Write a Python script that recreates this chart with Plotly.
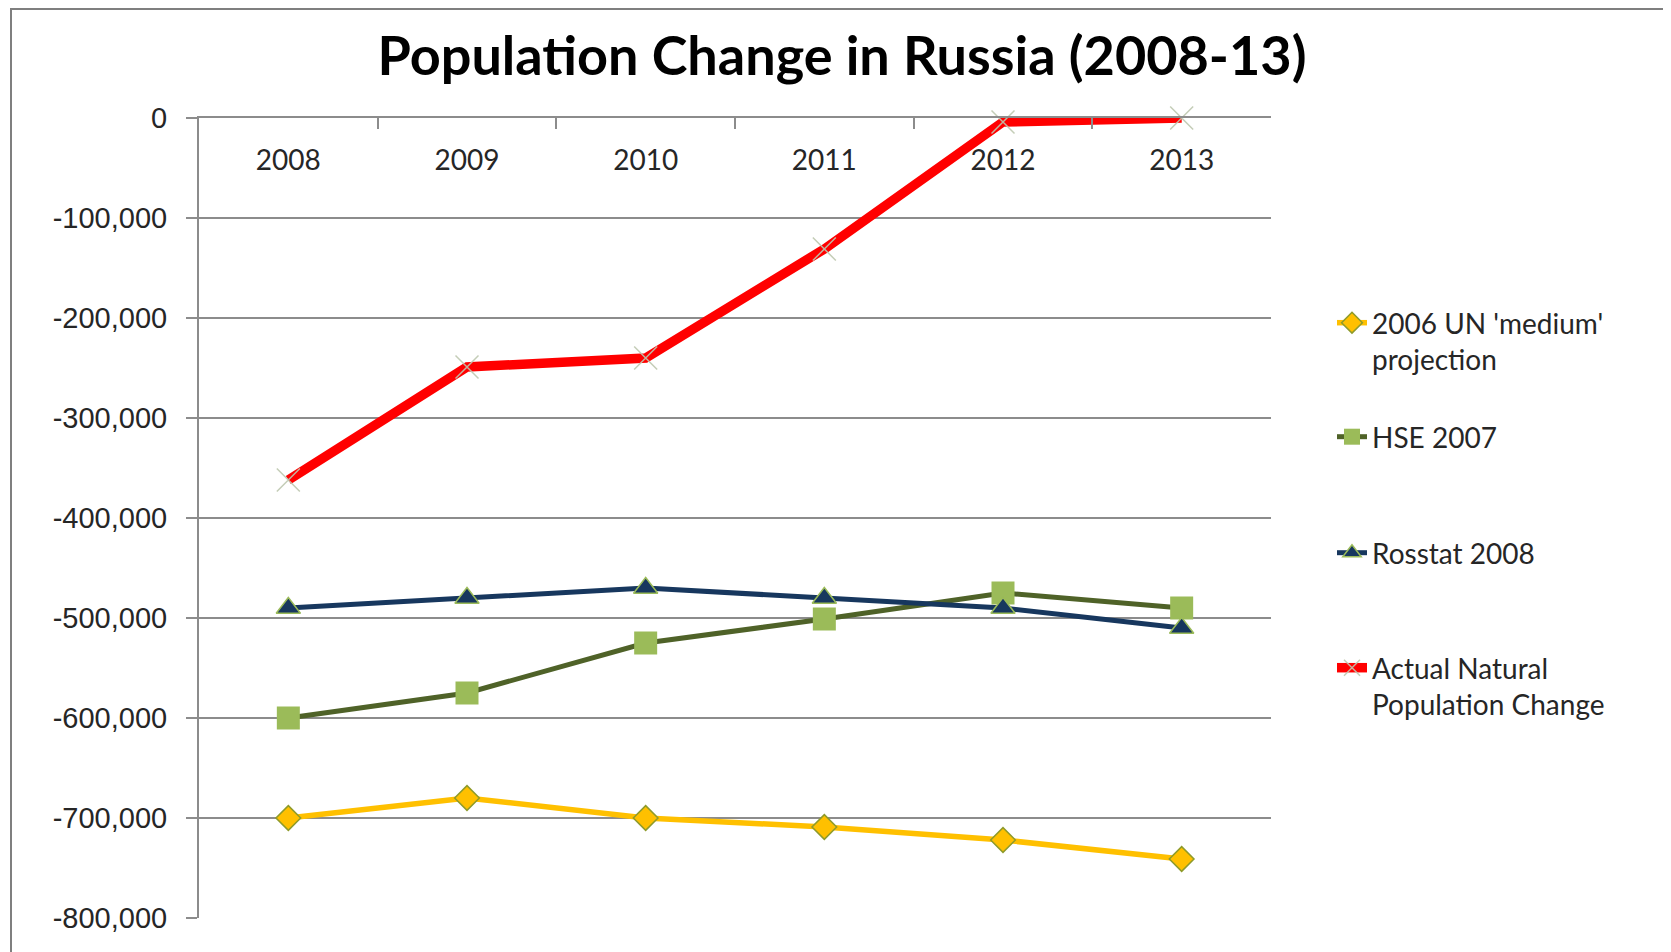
import plotly.graph_objects as go

# ---- data ----
years = [2008, 2009, 2010, 2011, 2012, 2013]
un_medium = [-700000, -680000, -700000, -709000, -722000, -741000]
hse_2007 = [-600000, -575000, -525000, -501000, -475000, -490000]
rosstat_2008 = [-490000, -480000, -470000, -480000, -490000, -510000]
actual_change = [-362000, -249000, -240000, -131000, -4000, 0]

series_names = ["2006 UN 'medium'<br>projection", "HSE 2007", "Rosstat 2008",
                "Actual Natural<br>Population Change"]
y_tick_vals = [0, -100000, -200000, -300000, -400000, -500000, -600000, -700000, -800000]
y_tick_text = ["0", "-100,000", "-200,000", "-300,000", "-400,000", "-500,000",
               "-600,000", "-700,000", "-800,000"]
title_text = "Population Change in Russia (2008-13)"

# ---- geometry (figure pixels; page has an 8px body margin) ----
OFF = 8
W, H = 1671 - OFF, 952 - OFF
L, R, T, B = 199 - OFF, 1271 - OFF, 118 - OFF, 918 - OFF


def px_x(p):
    return (p - L) / (R - L)


def px_y(p):
    return (B - p) / (B - T)


GRID = "#8c8c8c"
TEXT = "#262626"
FONT_TXT = "Lato"

fig = go.Figure()

fig.add_trace(go.Scatter(
    x=years, y=un_medium, name=series_names[0], mode="lines+markers",
    line=dict(color="#FFC000", width=5.5),
    marker=dict(symbol="diamond", size=19, color="#FFC000",
                line=dict(color="#8E9A2A", width=1.5)),
    legend="legend"))

fig.add_trace(go.Scatter(
    x=years, y=hse_2007, name=series_names[1], mode="lines+markers",
    line=dict(color="#4F6228", width=5),
    marker=dict(symbol="square", size=23, color="#9BBB59",
                line=dict(color="#9BBB59", width=0)),
    legend="legend2"))

fig.add_trace(go.Scatter(
    x=years, y=rosstat_2008, name=series_names[2], mode="lines+markers",
    line=dict(color="#17375E", width=5),
    marker=dict(symbol="triangle-up", size=21, color="#17375E",
                line=dict(color="#9BBB59", width=1.5)),
    legend="legend3"))

fig.add_trace(go.Scatter(
    x=years, y=actual_change, name=series_names[3], mode="lines+markers",
    line=dict(color="#FF0000", width=9.5),
    marker=dict(symbol="x-thin", size=23, color="rgba(190,200,175,0.9)",
                line=dict(color="rgba(190,200,175,0.9)", width=1.5)),
    legend="legend4", cliponaxis=False))

legend_common = dict(
    font=dict(family=FONT_TXT, size=28, color=TEXT),
    bgcolor="rgba(0,0,0,0)", borderwidth=0, xanchor="left", yanchor="middle",
    valign="top", itemclick=False, itemdoubleclick=False,
)
lx = px_x(1324)

fig.update_layout(
    width=W, height=H, autosize=False,
    margin=dict(l=L, r=W - R, t=T, b=H - B, pad=0),
    paper_bgcolor="white", plot_bgcolor="white",
    showlegend=True,
    title=dict(text=title_text, x=(842 - OFF) / W, xref="container", xanchor="center",
               y=1 - (56 - OFF) / H, yref="container", yanchor="middle",
               font=dict(family=FONT_TXT, size=54, color="black", weight="bold")),
    legend=dict(x=lx, y=px_y(333), **legend_common),
    legend2=dict(x=lx, y=px_y(429), **legend_common),
    legend3=dict(x=lx, y=px_y(545), **legend_common),
    legend4=dict(x=lx, y=px_y(678), **legend_common),
    xaxis=dict(
        range=[2007.5, 2013.5], side="top", showgrid=False, zeroline=False,
        showline=True, linecolor=GRID, linewidth=2,
        tickmode="array", tickvals=years, ticktext=[str(y) for y in years],
        ticks="inside", ticklen=1, tickcolor="rgba(0,0,0,0)",
        ticklabelposition="outside", ticklabelstandoff=-65,
        tickfont=dict(family=FONT_TXT, size=28, color=TEXT),
        minor=dict(tickmode="array", tickvals=[y - 0.5 for y in years] + [years[-1] + 0.5],
                   ticks="inside", ticklen=11, tickcolor=GRID, tickwidth=2, showgrid=False),
        fixedrange=True,
    ),
    yaxis=dict(
        range=[-800000, 0], showgrid=True, gridcolor=GRID, gridwidth=2,
        zeroline=False, showline=True, linecolor=GRID, linewidth=2,
        tickmode="array", tickvals=y_tick_vals, ticktext=y_tick_text,
        ticks="outside", ticklen=11, tickcolor=GRID, tickwidth=2,
        ticklabelstandoff=13,
        tickfont=dict(family="Liberation Sans", size=29, color=TEXT),
        fixedrange=True,
    ),
    shapes=[dict(type="rect", xref="paper", yref="paper",
                 x0=px_x(3), x1=px_x(1700), y0=px_y(990), y1=px_y(1),
                 line=dict(color="#7f7f7f", width=2), fillcolor="rgba(0,0,0,0)",
                 layer="below")],
)

fig.write_html("out.html")
